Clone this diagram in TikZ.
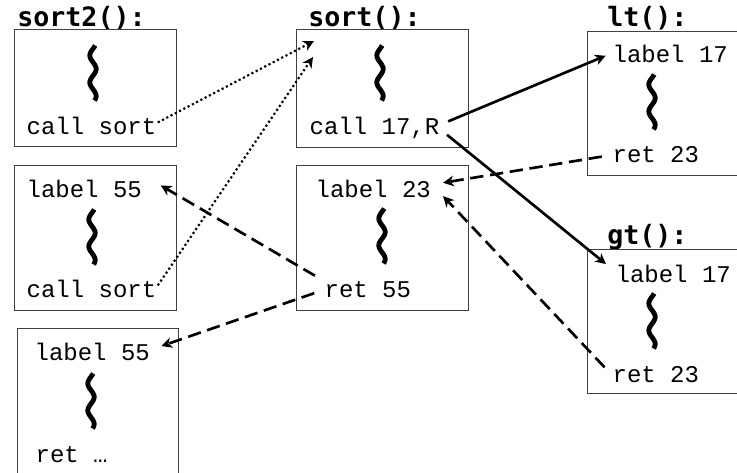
\documentclass[tikz,border=0pt]{standalone}
\usepackage{fontspec}
\setmonofont{Liberation Mono}
\newfontfamily\titlefont{DejaVu Sans Mono}
\usetikzlibrary{arrows.meta}

\tikzset{
	frame/.style={draw=black!75, line width=0.9pt, anchor=north west, inner sep=0pt},
	code/.style={anchor=base west, inner sep=1pt, font=\fontsize{18}{20}\selectfont\ttfamily},
	fname/.style={anchor=base west, inner sep=0pt, font=\fontsize{20}{22}\selectfont\titlefont\bfseries},
	tip/.style={-{Stealth[length=8pt,width=8pt,inset=2.5pt]}},
	call/.style={tip, line width=1.6pt, dotted},
	jump/.style={tip, line width=2pt, shorten <=6pt},
	back/.style={tip, line width=2pt, dash pattern=on 10pt off 5pt, shorten <=7pt},
	squiggle/.pic={
			\draw[line width=3.6pt] plot[domain=0:55, samples=40, smooth, variable=\t]
				({-3.2*cos(360*(\t-10)/27)}, {\t-27.5});
		}
}

\begin{document}
\begin{tikzpicture}[x=0.75pt, y=-0.75pt]
			\useasboundingbox (0,0) rectangle (737,473);

			% Function names
			\node[fname] (nameSortTwo) at (17,27) {sort2():};
			\node[fname] (nameSort) at (308,27) {sort():};
			\node[fname] (nameLt) at (607,27) {lt():};
			\node[fname] (nameGt) at (607,245) {gt():};

			% sort2() frames
			\node[frame, minimum width=121.5pt, minimum height=87.75pt] (sortTwoA) at (14,29) {};
			\node[frame, minimum width=121.5pt, minimum height=108.75pt] (sortTwoB) at (14,165) {};
			\node[frame, minimum width=120.75pt, minimum height=120pt] (sortTwoC) at (17,328) {};

			% sort() frames
			\node[frame, minimum width=129pt, minimum height=88.5pt] (sortA) at (296,29) {};
			\node[frame, minimum width=129pt, minimum height=108.75pt] (sortB) at (296,165) {};

			% lt() and gt() frames
			\node[frame, minimum width=130pt, minimum height=108pt] (ltFrame) at (587,31) {};
			\node[frame, minimum width=130pt, minimum height=108pt] (gtFrame) at (587,249) {};

			% Code lines
			\node[code] (callA) at (25,135) {call sort};
			\node[code] (labB) at (25,198) {label 55};
			\node[code] (callB) at (25,298) {call sort};
			\node[code] (labC) at (33,360) {label 55};
			\node[code] (retC) at (34,462) {ret …};

			\node[code] (callR) at (308,135) {call 17,R};
			\node[code] (labTw) at (314,198) {label 23};
			\node[code] (retFf) at (323,298) {ret 55};

			\node[code] (ltIn) at (611,63) {label 17};
			\node[code] (ltRet) at (611,163) {ret 23};
			\node[code] (gtIn) at (614,282) {label 17};
			\node[code] (gtRet) at (611,382) {ret 23};

			% Squiggles
			\foreach \sx/\sy in {93/73, 92/237, 91/401, 380/73, 382/236, 652/102, 652/321}{
					\pic at (\sx,\sy) {squiggle};
				}

			% Calls into sort()
			\coordinate (sortInA) at (314,41);
			\coordinate (sortInB) at (313,57);
			\draw[call] ([yshift=3pt]callA.east) -- (sortInA);
			\draw[call] ([yshift=3pt]callB.east) -- (sortInB);

			% Jumps to the comparators
			\draw[jump] ([yshift=3pt]callR.east) -- ([xshift=-4pt,yshift=-1pt]ltIn.west);
			\draw[jump] ([yshift=-1pt]callR.east) -- ([xshift=-6pt,yshift=7pt]gtIn.west);

			% Returns
			\draw[back] (ltRet.west) -- ([xshift=8pt,yshift=5pt]labTw.east);
			\draw[back] (gtRet.west) -- ([xshift=8pt,yshift=-5pt]labTw.east);
			\draw[back] (retFf.north west) -- ([xshift=13pt,yshift=3pt]labB.east);
			\draw[back] (retFf.west) -- ([xshift=7.5pt,yshift=4pt]labC.east);
		\end{tikzpicture}
\end{document}
